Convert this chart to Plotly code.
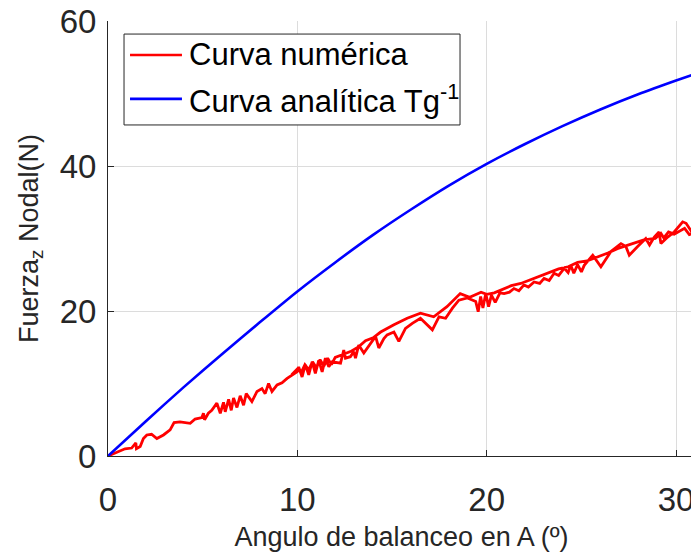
import plotly.graph_objects as go

# Analytical curve (Tg^-1)
blue_x = [0, 2, 4, 6, 8, 10, 12, 14, 16, 18, 20, 22, 24, 26, 28, 30, 31]
blue_y = [0, 4.8, 9.5, 14.0, 18.4, 22.7, 26.7, 30.5, 34.0, 37.3, 40.3, 43.0, 45.5, 47.8, 49.9, 51.8, 52.7]

# Numerical curve - forward pass
red_fwd_x = [0, 0.37, 0.9, 1.25, 1.47, 1.5, 1.7, 1.87, 2.05, 2.3, 2.58, 2.93, 3.28, 3.49, 3.8, 4.34, 4.6, 4.96,
             5.04, 5.1, 5.3, 5.48, 5.66, 5.75, 5.93, 6.1, 6.19, 6.37, 6.51, 6.63, 6.81, 6.98, 7.16, 7.3, 7.6,
             7.87, 8.13, 8.3, 8.48, 8.66, 8.93, 9.19, 9.46, 9.72, 9.98,
             10.07, 10.25, 10.42, 10.6, 10.78, 10.95, 11.13, 11.31, 11.48, 11.66, 11.84, 12.28, 12.45, 12.54,
             12.8, 12.98, 13.07, 13.24, 13.51, 13.86, 14.13, 14.3, 14.57, 14.74,
             15.1, 15.36, 15.71, 16.07, 16.5, 17.13, 17.48, 17.83, 18.19, 18.53, 18.98, 19.42, 19.55, 19.68,
             19.8, 19.95, 20.1, 20.25, 20.45, 20.7, 20.92, 21.2, 21.44, 21.7, 21.97, 22.2, 22.5, 22.8, 23.03,
             23.3, 23.56, 23.8, 24.1, 24.3, 24.44, 24.6, 24.8, 25.0, 25.15, 25.6, 26.03, 26.56, 27.09, 27.35,
             27.53, 27.97, 28.4, 28.6, 28.85, 29.1, 29.2, 29.56, 29.9, 30.35, 30.53, 30.88]
red_fwd_y = [0, 0.4, 1.0, 1.1, 1.8, 1.0, 1.3, 2.4, 2.9, 3.0, 2.4, 2.9, 3.6, 4.6, 4.7, 4.5, 5.1, 5.3,
             5.9, 5.0, 5.9, 6.3, 7.1, 7.3, 5.9, 7.4, 6.1, 7.8, 6.3, 8.0, 6.7, 8.3, 7.0, 8.6, 7.5,
             8.9, 9.3, 8.6, 10.0, 8.9, 9.8, 10.1, 10.7, 11.2, 11.6,
             12.3, 10.9, 12.6, 11.2, 13.0, 11.4, 13.2, 11.6, 13.5, 12.3, 13.0, 12.8, 14.6, 13.5,
             13.7, 14.4, 13.5, 15.3, 14.2, 15.5, 16.5, 14.9, 16.2, 16.7,
             17.1, 15.8, 17.6, 18.3, 19.0, 17.4, 19.2, 19.0, 20.4, 21.5, 21.8, 21.3, 19.9, 22.0,
             20.4, 22.4, 20.6, 22.2, 21.2, 22.5, 22.4, 22.6, 23.1, 22.8, 23.6, 23.3, 24.0, 23.8, 24.5,
             24.2, 25.2, 24.9, 25.9, 25.3, 26.3, 25.2, 26.4, 25.4, 26.3, 27.7, 26.1, 28.2, 29.3, 28.9,
             27.7, 28.9, 30.0, 29.1, 30.2, 30.9, 29.3, 30.2, 30.9, 32.3, 32.1, 30.7]

# Numerical curve - return pass
red_back_x = [30.7, 30.45, 30.2, 29.9, 29.6, 29.35, 29.2, 28.9, 28.3, 27.8, 27.4, 26.9, 26.4, 25.7, 25.3, 24.8,
              24.3, 23.8, 23.3, 22.8, 22.3, 21.8, 21.3, 20.8, 20.4, 20.0, 19.7, 19.1, 18.6, 17.9, 17.2, 16.5,
              15.8, 15.1, 14.4, 14.0, 13.6, 13.2, 12.8, 12.4, 12.0, 11.8, 11.6, 11.4, 11.2, 11.0, 10.8, 10.6,
              10.4, 10.2, 10.0, 9.7]
red_back_y = [30.55, 31.4, 31.0, 30.6, 30.9, 30.1, 30.7, 30.0, 29.8, 29.4, 29.1, 28.6, 28.0, 27.3, 26.9, 26.7,
              26.1, 25.8, 25.3, 24.8, 24.4, 23.8, 23.5, 23.0, 22.5, 22.3, 22.6, 21.9, 22.4, 20.6, 19.2, 19.7,
              19.0, 18.1, 17.1, 16.3, 15.9, 15.0, 14.4, 14.0, 13.6, 12.6, 13.5, 12.4, 13.3, 12.2, 13.0, 11.9,
              12.6, 11.5, 12.0, 11.2]

red_x = red_fwd_x + red_back_x
red_y = red_fwd_y + red_back_y

legend_labels = ["Curva numérica", "Curva analítica Tg<sup>-1</sup>"]
legend_colors = ["#ff0000", "#0000ff"]

fig = go.Figure()
fig.add_trace(go.Scatter(x=red_x, y=red_y, mode="lines", name=legend_labels[0],
                         line=dict(color=legend_colors[0], width=2.8), showlegend=False))
fig.add_trace(go.Scatter(x=blue_x, y=blue_y, mode="lines", name=legend_labels[1],
                         line=dict(color=legend_colors[1], width=2.6, shape="spline", smoothing=0.6),
                         showlegend=False))

axis_common = dict(
    showgrid=True, gridcolor="#dcdcdc", gridwidth=1,
    showline=True, linecolor="#262626", linewidth=1,
    ticks="inside", ticklen=6, tickcolor="#262626",
    tickfont=dict(size=33, color="#262626"),
    zeroline=False, mirror=False, automargin=False,
    ticklabeloverflow="allow",
)

# Legend drawn in paper coordinates (MATLAB-style box with long line samples)
box = dict(x0=0.0273, x1=0.5997, y0=0.761, y1=0.970)
rows_y = [0.922, 0.821]
shapes = [dict(type="rect", xref="paper", yref="paper", x0=box["x0"], x1=box["x1"], y0=box["y0"], y1=box["y1"],
               line=dict(color="#262626", width=1), fillcolor="white", layer="above")]
annotations = []
for lab, col, yy in zip(legend_labels, legend_colors, rows_y):
    shapes.append(dict(type="line", xref="paper", yref="paper", x0=0.0375, x1=0.126, y0=yy, y1=yy,
                       line=dict(color=col, width=2.6), layer="above"))
    annotations.append(dict(text=lab, xref="paper", yref="paper", x=0.1346, y=yy, xanchor="left",
                            yanchor="middle", showarrow=False, font=dict(size=31, color="#000000")))

fig.update_layout(
    width=691, height=544,
    margin=dict(l=100, r=4, t=13, b=96),
    paper_bgcolor="white", plot_bgcolor="white",
    font=dict(family="Liberation Sans, Arial, sans-serif", color="#262626"),
    xaxis=dict(range=[0, 31], tickvals=[0, 10, 20, 30], ticklabelstandoff=14,
               title=dict(text="Angulo de balanceo en A (º)", font=dict(size=27, color="#262626"), standoff=13),
               **axis_common),
    yaxis=dict(range=[0, 60], tickvals=[0, 20, 40, 60], ticklabelstandoff=4,
               title=dict(text="Fuerza<sub>z</sub> Nodal(N)", font=dict(size=27, color="#262626"), standoff=13),
               **axis_common),
    shapes=shapes,
    annotations=annotations,
    showlegend=False,
)

fig.write_html("out.html")
